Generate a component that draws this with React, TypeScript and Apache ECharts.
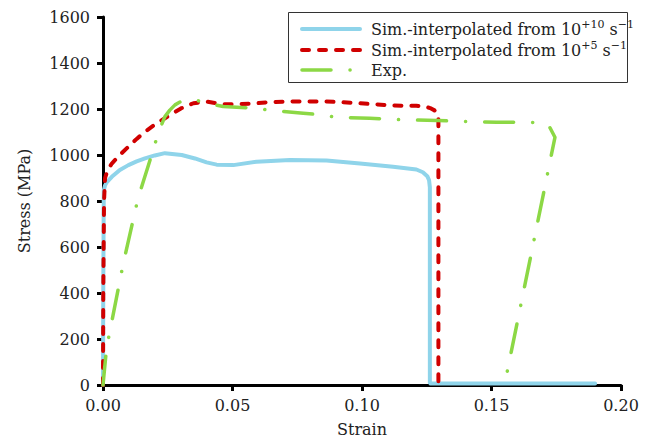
import React, { useEffect, useRef } from "react";
import * as echarts from "echarts";

// Simulation interpolated from 10^10 1/s
const strainSim10 = [0, 0.0001, 0.0003, 0.0008, 0.0015, 0.0034, 0.0065, 0.0098, 0.013, 0.0162, 0.02, 0.0239, 0.0304, 0.0355, 0.04, 0.0439, 0.0503, 0.0593, 0.0722, 0.0863, 0.0992, 0.112, 0.121, 0.1235, 0.1252, 0.1259, 0.1262, 0.1262, 0.1265, 0.19];
const stressSim10 = [0, 400, 847, 868, 882, 905, 935, 956, 972, 985, 998, 1008, 1000, 985, 968, 958, 956, 971, 978, 976, 963, 949, 937, 925, 908, 890, 860, 10, 6, 6];

// Simulation interpolated from 10^5 1/s
const strainSim5 = [0, 0.0001, 0.0004, 0.0008, 0.0018, 0.0034, 0.0065, 0.0098, 0.013, 0.0162, 0.02, 0.0239, 0.0272, 0.0304, 0.0349, 0.04, 0.0465, 0.0568, 0.0632, 0.0734, 0.0863, 0.0992, 0.112, 0.121, 0.1245, 0.1263, 0.128, 0.129, 0.1295, 0.1295];
const stressSim5 = [0, 400, 800, 900, 935, 963, 1000, 1036, 1070, 1101, 1132, 1160, 1183, 1204, 1225, 1232, 1220, 1223, 1229, 1233, 1233, 1225, 1215, 1214, 1210, 1204, 1194, 1180, 1160, 0];

// Experiment
const strainExp = [0, 0.0014, 0.0027, 0.0078, 0.0136, 0.0194, 0.0214, 0.0239, 0.0258, 0.0278, 0.03, 0.0323, 0.036, 0.04, 0.0464, 0.058, 0.065, 0.0773, 0.0838, 0.0902, 0.103, 0.116, 0.129, 0.138, 0.152, 0.165, 0.168, 0.17, 0.1713, 0.1725, 0.1745, 0.1552, 0.1546];
const stressExp = [0, 163, 236, 527, 815, 1022, 1099, 1167, 1195, 1218, 1232, 1240, 1238, 1225, 1211, 1204, 1194, 1182, 1175, 1164, 1160, 1153, 1150, 1146, 1142, 1142, 1141, 1139, 1133, 1120, 1077, 10, 0];

const xTicks = [0, 0.05, 0.1, 0.15, 0.2];
const yTicks = [0, 200, 400, 600, 800, 1000, 1200, 1400, 1600];

const seriesNames = [
  "Sim.-interpolated from 10^+10 s^-1",
  "Sim.-interpolated from 10^+5 s^-1",
  "Exp.",
];

// Legend labels as rich text (superscripted exponents)
const legendLabels = [
  "{t|Sim.-interpolated from 10}{s|+10}{t| s}{s|−1}",
  "{t|Sim.-interpolated from 10}{s|+5}{t| s}{s|−1}",
  "{t|Exp.}",
];

const COLORS = ["#8fd4ea", "#d00000", "#8cd845"];
const DASHES: (number[] | null)[] = [null, [7, 10], [29, 19, 0.1, 19]];
const WIDTHS = [4, 4, 3.5];

const zip = (xs: number[], ys: number[]) => xs.map((x, i) => [x, ys[i]]);

const FONT = "DejaVu Serif";
const TEXT = "#222";

// Hand-built legend box in the upper right corner
function legendGraphic() {
  const rowY = [29, 50, 70];
  const children: any[] = [
    {
      type: "rect",
      shape: { x: 288.5, y: 12.5, width: 339, height: 70 },
      style: { fill: "#fff", stroke: "#333", lineWidth: 1 },
    },
  ];
  seriesNames.forEach((_, i) => {
    children.push({
      type: "line",
      shape: { x1: 302, y1: rowY[i], x2: 360, y2: rowY[i] },
      style: {
        stroke: COLORS[i],
        lineWidth: WIDTHS[i],
        lineCap: "round",
        lineDash: DASHES[i] || undefined,
      },
    });
    children.push({
      type: "text",
      x: 371,
      y: rowY[i],
      style: {
        text: legendLabels[i],
        verticalAlign: "middle",
        align: "left",
        fill: TEXT,
        font: `16px "${FONT}"`,
        rich: {
          t: { fontFamily: FONT, fontSize: 16, fill: TEXT },
          s: { fontFamily: FONT, fontSize: 11, fill: TEXT, padding: [0, 0, 9, 0] },
        },
      },
    });
  });
  return { type: "group", z: 100, children };
}

export default function App() {
  const ref = useRef<HTMLDivElement>(null);

  useEffect(() => {
    if (!ref.current) return;
    const chart = echarts.init(ref.current, undefined, { renderer: "svg" });
    chart.setOption({
      animation: false,
      backgroundColor: "#fff",
      grid: { left: 103, right: 29, top: 17, bottom: 55, outerBoundsMode: "none", containLabel: false },
      graphic: [legendGraphic()],
      xAxis: {
        type: "value",
        min: 0,
        max: 0.2,
        interval: 0.05,
        name: "Strain",
        nameLocation: "middle",
        nameGap: 36,
        nameTextStyle: { fontFamily: FONT, fontSize: 16, color: TEXT },
        axisLine: { show: true, lineStyle: { color: "#000", width: 3 } },
        axisTick: { show: true, length: 6, lineStyle: { color: "#000", width: 3 } },
        axisLabel: {
          fontFamily: FONT,
          fontSize: 16,
          color: TEXT,
          margin: 12,
          formatter: (v: number) => (xTicks.includes(Math.round(v * 100) / 100) ? v.toFixed(2) : ""),
        },
        splitLine: { show: false },
      },
      yAxis: {
        type: "value",
        min: 0,
        max: 1600,
        interval: 200,
        name: "Stress (MPa)",
        nameLocation: "middle",
        nameGap: 71,
        nameTextStyle: { fontFamily: FONT, fontSize: 16, color: TEXT },
        axisLine: { show: true, lineStyle: { color: "#000", width: 3 } },
        axisTick: { show: true, length: 6, lineStyle: { color: "#000", width: 3 } },
        axisLabel: {
          fontFamily: FONT,
          fontSize: 16,
          color: TEXT,
          margin: 13,
          formatter: (v: number) => (yTicks.includes(v) ? String(v) : ""),
        },
        splitLine: { show: false },
      },
      series: seriesNames.map((name, i) => ({
        name,
        type: "line",
        data: [
          zip(strainSim10, stressSim10),
          zip(strainSim5, stressSim5),
          zip(strainExp, stressExp),
        ][i],
        showSymbol: false,
        symbol: "none",
        smooth: false,
        z: 3 + i,
        lineStyle: {
          color: COLORS[i],
          width: WIDTHS[i],
          type: DASHES[i] || "solid",
          cap: "round",
          join: "round",
        },
        itemStyle: { color: COLORS[i] },
      })),
    });
    return () => chart.dispose();
  }, []);

  return <div ref={ref} style={{ width: 650, height: 440, position: "absolute", left: 0, top: 0 }} />;
}
